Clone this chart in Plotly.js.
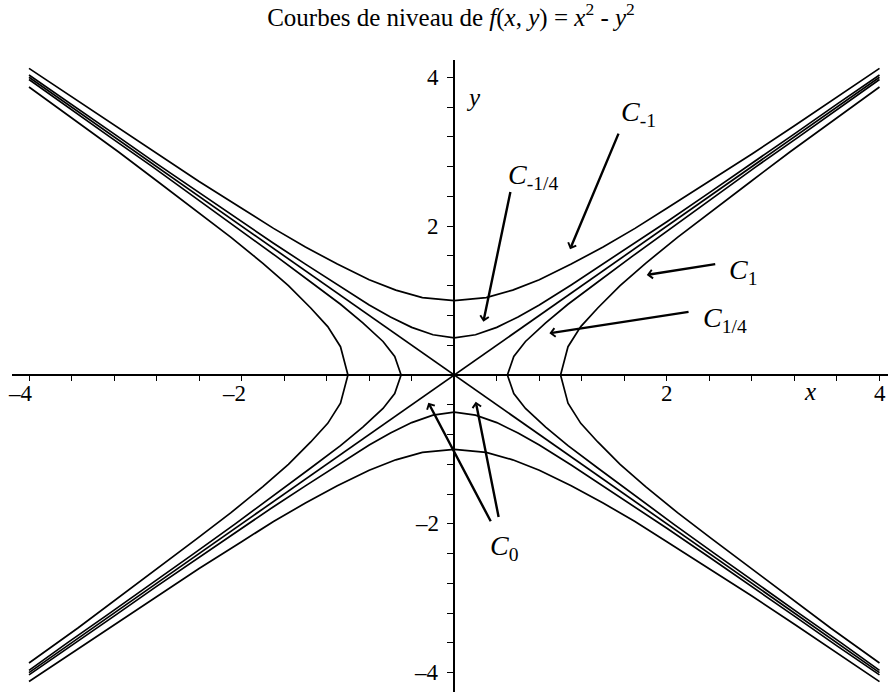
<!DOCTYPE html>
<html>
<head>
<meta charset="utf-8">
<script src="https://cdn.plot.ly/plotly-3.0.1.min.js"></script>
<style>
  html, body { margin: 0; padding: 0; background: #fff; }
  #chart { width: 888px; height: 692px; }
</style>
</head>
<body>
<div id="chart"></div>
<script>
// Level curves of f(x, y) = x^2 - y^2, sampled as polylines.

// C_1 : x^2 - y^2 = 1 (left / right branches)
const c1RightX = [4.00, 3.54, 3.16, 2.79, 2.42, 2.10, 1.80, 1.56, 1.35, 1.19, 1.07, 1.00, 1.07, 1.19, 1.35, 1.56, 1.80, 2.10, 2.42, 2.79, 3.16, 3.54, 4.00];
const c1RightY = [3.87, 3.40, 3.00, 2.60, 2.20, 1.85, 1.50, 1.20, 0.90, 0.65, 0.38, 0.00, -0.38, -0.65, -0.90, -1.20, -1.50, -1.85, -2.20, -2.60, -3.00, -3.40, -3.87];
const c1LeftX  = [-4.00, -3.54, -3.16, -2.79, -2.42, -2.10, -1.80, -1.56, -1.35, -1.19, -1.07, -1.00, -1.07, -1.19, -1.35, -1.56, -1.80, -2.10, -2.42, -2.79, -3.16, -3.54, -4.00];
const c1LeftY  = [3.87, 3.40, 3.00, 2.60, 2.20, 1.85, 1.50, 1.20, 0.90, 0.65, 0.38, 0.00, -0.38, -0.65, -0.90, -1.20, -1.50, -1.85, -2.20, -2.60, -3.00, -3.40, -3.87];

// C_1/4 : x^2 - y^2 = 1/4
const cQuarterRightX = [4.00, 3.64, 3.24, 2.84, 2.45, 2.06, 1.68, 1.35, 1.07, 0.86, 0.67, 0.56, 0.50, 0.56, 0.67, 0.86, 1.07, 1.35, 1.68, 2.06, 2.45, 2.84, 3.24, 3.64, 4.00];
const cQuarterRightY = [3.97, 3.60, 3.20, 2.80, 2.40, 2.00, 1.60, 1.25, 0.95, 0.70, 0.45, 0.25, 0.00, -0.25, -0.45, -0.70, -0.95, -1.25, -1.60, -2.00, -2.40, -2.80, -3.20, -3.60, -3.97];
const cQuarterLeftX  = [-4.00, -3.64, -3.24, -2.84, -2.45, -2.06, -1.68, -1.35, -1.07, -0.86, -0.67, -0.56, -0.50, -0.56, -0.67, -0.86, -1.07, -1.35, -1.68, -2.06, -2.45, -2.84, -3.24, -3.64, -4.00];
const cQuarterLeftY  = [3.97, 3.60, 3.20, 2.80, 2.40, 2.00, 1.60, 1.25, 0.95, 0.70, 0.45, 0.25, 0.00, -0.25, -0.45, -0.70, -0.95, -1.25, -1.60, -2.00, -2.40, -2.80, -3.20, -3.60, -3.97];

// C_-1 : x^2 - y^2 = -1 (upper / lower branches)
const cM1TopX    = [-4.00, -3.60, -3.20, -2.80, -2.40, -2.00, -1.70, -1.40, -1.10, -0.80, -0.55, -0.30, 0.00, 0.30, 0.55, 0.80, 1.10, 1.40, 1.70, 2.00, 2.40, 2.80, 3.20, 3.60, 4.00];
const cM1TopY    = [4.12, 3.74, 3.35, 2.97, 2.60, 2.24, 1.97, 1.72, 1.49, 1.28, 1.14, 1.04, 1.00, 1.04, 1.14, 1.28, 1.49, 1.72, 1.97, 2.24, 2.60, 2.97, 3.35, 3.74, 4.12];
const cM1BottomX = [-4.00, -3.60, -3.20, -2.80, -2.40, -2.00, -1.70, -1.40, -1.10, -0.80, -0.55, -0.30, 0.00, 0.30, 0.55, 0.80, 1.10, 1.40, 1.70, 2.00, 2.40, 2.80, 3.20, 3.60, 4.00];
const cM1BottomY = [-4.12, -3.74, -3.35, -2.97, -2.60, -2.24, -1.97, -1.72, -1.49, -1.28, -1.14, -1.04, -1.00, -1.04, -1.14, -1.28, -1.49, -1.72, -1.97, -2.24, -2.60, -2.97, -3.35, -3.74, -4.12];

// C_-1/4 : x^2 - y^2 = -1/4
const cMQuarterTopX    = [-4.00, -3.60, -3.20, -2.80, -2.40, -2.00, -1.70, -1.40, -1.10, -0.80, -0.60, -0.40, -0.20, 0.00, 0.20, 0.40, 0.60, 0.80, 1.10, 1.40, 1.70, 2.00, 2.40, 2.80, 3.20, 3.60, 4.00];
const cMQuarterTopY    = [4.03, 3.64, 3.24, 2.84, 2.45, 2.06, 1.77, 1.49, 1.21, 0.94, 0.78, 0.64, 0.54, 0.50, 0.54, 0.64, 0.78, 0.94, 1.21, 1.49, 1.77, 2.06, 2.45, 2.84, 3.24, 3.64, 4.03];
const cMQuarterBottomX = [-4.00, -3.60, -3.20, -2.80, -2.40, -2.00, -1.70, -1.40, -1.10, -0.80, -0.60, -0.40, -0.20, 0.00, 0.20, 0.40, 0.60, 0.80, 1.10, 1.40, 1.70, 2.00, 2.40, 2.80, 3.20, 3.60, 4.00];
const cMQuarterBottomY = [-4.03, -3.64, -3.24, -2.84, -2.45, -2.06, -1.77, -1.49, -1.21, -0.94, -0.78, -0.64, -0.54, -0.50, -0.54, -0.64, -0.78, -0.94, -1.21, -1.49, -1.77, -2.06, -2.45, -2.84, -3.24, -3.64, -4.03];

// C_0 : the two asymptotes
const c0RisingX  = [-4.00, 4.00];
const c0RisingY  = [-4.00, 4.00];
const c0FallingX = [-4.00, 4.00];
const c0FallingY = [4.00, -4.00];

// Tick labels
const xTickValues = [-4, -2, 2, 4];
const xTickLabels = ['\u2013' + '4', '\u2013' + '2', '2', '4'];
const yTickValues = [4, 2, -2, -4];
const yTickLabels = ['4', '2', '\u2013' + '2', '\u2013' + '4'];

// Curve labels and the points their arrows aim at
const curveLabels = [
  { text: '<i>C</i><sub>-1</sub>',   x: 1.55, y: 3.52 },
  { text: '<i>C</i><sub>-1/4</sub>', x: 0.49, y: 2.67 },
  { text: '<i>C</i><sub>1</sub>',    x: 2.57, y: 1.39 },
  { text: '<i>C</i><sub>1/4</sub>',  x: 2.32, y: 0.75 },
  { text: '<i>C</i><sub>0</sub>',    x: 0.32, y: -2.32 }
];
const arrows = [
  { fromX: 1.553, fromY: 3.27,   toX: 1.089,  toY: 1.69 },
  { fromX: 0.532, fromY: 2.487,  toX: 0.274,  toY: 0.716 },
  { fromX: 2.469, fromY: 1.492,  toX: 1.811,  toY: 1.344 },
  { fromX: 2.218, fromY: 0.851,  toX: 0.895,  toY: 0.560 },
  { fromX: 0.353, fromY: -1.993, toX: -0.244, toY: -0.372 },
  { fromX: 0.421, fromY: -1.935, toX: 0.202,  toY: -0.359 }
];

const SERIF = 'Liberation Serif, Times New Roman, serif';
const curveLine = { color: '#000', width: 1.7 };

function branch(xs, ys) {
  return { type: 'scatter', mode: 'lines', x: xs, y: ys, line: curveLine,
           hoverinfo: 'skip', showlegend: false };
}

const traces = [
  branch(c1RightX, c1RightY), branch(c1LeftX, c1LeftY),
  branch(cQuarterRightX, cQuarterRightY), branch(cQuarterLeftX, cQuarterLeftY),
  branch(cM1TopX, cM1TopY), branch(cM1BottomX, cM1BottomY),
  branch(cMQuarterTopX, cMQuarterTopY), branch(cMQuarterBottomX, cMQuarterBottomY),
  branch(c0RisingX, c0RisingY), branch(c0FallingX, c0FallingY)
];

const xRange = [-4.16, 4.08];
const yRange = [-4.26, 4.2325];

const annotations = [];

xTickValues.forEach((v, i) => {
  annotations.push({
    x: v, y: 0, xref: 'x', yref: 'y', text: xTickLabels[i], showarrow: false,
    xanchor: v < 0 ? 'right' : 'center', xshift: v < 0 ? 6 : 0,
    yanchor: 'top', yshift: -4,
    font: { family: SERIF, size: 23, color: '#000' }
  });
});
yTickValues.forEach((v, i) => {
  annotations.push({
    x: 0, y: v, xref: 'x', yref: 'y', text: yTickLabels[i], showarrow: false,
    xanchor: 'right', xshift: -13, yanchor: 'middle',
    font: { family: SERIF, size: 23, color: '#000' }
  });
});

// axis names
annotations.push({ x: 3.35, y: -0.22, xref: 'x', yref: 'y', text: '<i>x</i>', showarrow: false,
  font: { family: SERIF, size: 25, color: '#000' } });
annotations.push({ x: 0.18, y: 3.73, xref: 'x', yref: 'y', text: '<i>y</i>', showarrow: false,
  font: { family: SERIF, size: 25, color: '#000' } });

curveLabels.forEach(l => {
  annotations.push({
    x: l.x, y: l.y, xref: 'x', yref: 'y', text: l.text, showarrow: false,
    xanchor: 'left', yanchor: 'middle',
    font: { family: SERIF, size: 28, color: '#000' }
  });
});

arrows.forEach(a => {
  annotations.push({
    x: a.toX, y: a.toY, ax: a.fromX, ay: a.fromY,
    xref: 'x', yref: 'y', axref: 'x', ayref: 'y',
    text: ' ', font: { size: 1 },
    showarrow: true, arrowhead: 4, arrowsize: 0.7, arrowwidth: 2.4,
    arrowcolor: '#000', standoff: 0, startstandoff: 0
  });
});

const layout = {
  width: 888, height: 692,
  margin: { l: 12, r: 0, t: 60, b: 0 },
  paper_bgcolor: '#fff', plot_bgcolor: '#fff',
  showlegend: false,
  title: {
    text: 'Courbes de niveau de <i>f</i>(<i>x</i>, <i>y</i>) = <i>x</i><sup>2</sup> - <i>y</i><sup>2</sup>',
    font: { family: SERIF, size: 25, color: '#000' },
    xref: 'container', x: 451 / 888, xanchor: 'center',
    yref: 'container', y: 1 - 17 / 692, yanchor: 'middle'
  },
  xaxis: {
    range: xRange, anchor: 'free',
    position: (0 - yRange[0]) / (yRange[1] - yRange[0]),
    showline: true, linecolor: '#000', linewidth: 2,
    showgrid: false, zeroline: false,
    tickmode: 'linear', tick0: 0, dtick: 0.4,
    ticks: 'outside', ticklen: 5, tickwidth: 1, tickcolor: '#000',
    showticklabels: false, fixedrange: true
  },
  yaxis: {
    range: yRange, anchor: 'free',
    position: (0 - xRange[0]) / (xRange[1] - xRange[0]),
    showline: true, linecolor: '#000', linewidth: 2,
    showgrid: false, zeroline: false,
    tickmode: 'linear', tick0: 0, dtick: 0.4,
    ticks: 'outside', ticklen: 6, tickwidth: 1, tickcolor: '#000',
    showticklabels: false, fixedrange: true
  },
  annotations: annotations
};

Plotly.newPlot('chart', traces, layout, { staticPlot: true, displayModeBar: false });
</script>
</body>
</html>
